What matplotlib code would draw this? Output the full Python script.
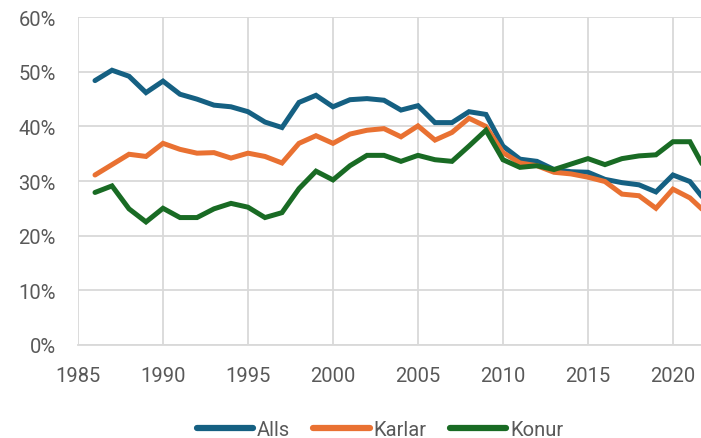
import numpy as np
import matplotlib
matplotlib.use('Agg')
import matplotlib.pyplot as plt
from matplotlib.ticker import PercentFormatter

years = list(range(1986, 2023))

# Alls
alls = [48.4, 50.3, 49.2, 46.2, 48.3, 45.9, 45.0, 43.9, 43.6, 42.7,
        40.8, 39.8, 44.4, 45.7, 43.6, 44.9, 45.1, 44.8, 43.0, 43.8,
        40.7, 40.7, 42.7, 42.2, 36.4, 34.0, 33.6, 32.1, 31.7, 31.6,
        30.3, 29.7, 29.3, 28.0, 31.1, 29.9, 26.0]
# Karlar
karlar = [31.1, 33.0, 34.9, 34.5, 36.9, 35.8, 35.1, 35.2, 34.2, 35.1,
          34.5, 33.3, 36.9, 38.3, 36.9, 38.6, 39.3, 39.6, 38.1, 40.1,
          37.5, 38.9, 41.5, 40.0, 35.2, 33.3, 32.8, 31.6, 31.3, 30.7,
          29.9, 27.6, 27.3, 25.0, 28.5, 26.9, 24.0]
# Konur
konur = [27.9, 29.1, 24.9, 22.5, 25.0, 23.3, 23.3, 24.9, 25.9, 25.2,
         23.3, 24.2, 28.6, 31.8, 30.2, 32.8, 34.7, 34.7, 33.6, 34.7,
         33.9, 33.6, 36.4, 39.3, 33.9, 32.5, 32.8, 32.1, 33.1, 34.1,
         33.0, 34.1, 34.6, 34.8, 37.2, 37.2, 31.5]

labels = ['Alls', 'Karlar', 'Konur']
colors = ['#156082', '#E97132', '#196B24']

plt.rcParams['font.family'] = ['Roboto', 'DejaVu Sans']

W, H = 701, 439
fig = plt.figure(figsize=(W / 100, H / 100), dpi=100)
ax = fig.add_axes([78 / W, (H - 345.7) / H, (W - 78) / W, (345.7 - 18.3) / H])

for y, lab, c in zip([alls, karlar, konur], labels, colors):
    ax.plot(years, y, color=c, lw=3.6, label=lab, solid_capstyle='round',
            solid_joinstyle='miter')

ax.set_xlim(1985, 2021.65)
ax.set_ylim(0, 60)
ax.set_xticks(range(1985, 2025, 5))
ax.set_yticks(range(0, 70, 10))
ax.yaxis.set_major_formatter(PercentFormatter(decimals=0))
ax.grid(color='#d9d9d9', lw=1.3)
ax.set_axisbelow(True)
for s in ['top', 'right', 'left']:
    ax.spines[s].set_visible(False)
ax.spines['bottom'].set_color('#d9d9d9')
ax.spines['bottom'].set_linewidth(1.3)
ax.tick_params(length=0, labelsize=14.5, colors='#595959')
ax.tick_params(axis='x', pad=15)
ax.tick_params(axis='y', pad=16)

leg = fig.legend(loc='center', bbox_to_anchor=(0.542, 0.02), ncol=3, frameon=False,
                 fontsize=14.5, handlelength=2.8, handletextpad=0.2, columnspacing=1.15,
                 labelcolor='#595959')
for line in leg.get_lines():
    line.set_linewidth(4.5)

fig.savefig('out.png', dpi=100)
